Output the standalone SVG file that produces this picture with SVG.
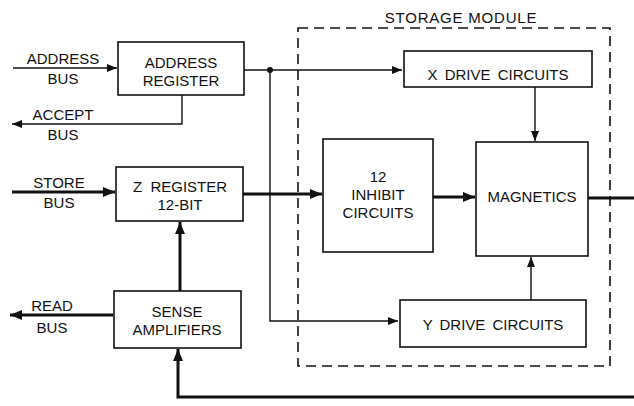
<svg xmlns="http://www.w3.org/2000/svg" width="634" height="406" viewBox="0 0 634 406">
<style>
.box{fill:#fff;stroke:#111;stroke-width:1.6}
.t{font-family:"Liberation Sans",Arial,sans-serif;font-size:15px;fill:#111;text-anchor:middle}
.thin{fill:none;stroke:#111;stroke-width:1.4}
.thick{fill:none;stroke:#111;stroke-width:3}
.dash{fill:none;stroke:#111;stroke-width:1.6;stroke-dasharray:10,6}
</style>
<defs>
<marker id="a" viewBox="0 0 10 8" refX="10" refY="4" markerWidth="10" markerHeight="8" markerUnits="userSpaceOnUse" orient="auto"><path d="M0,0L10,4L0,8z" fill="#111"/></marker>
<marker id="b" viewBox="0 0 12 10" refX="12" refY="5" markerWidth="13" markerHeight="10" markerUnits="userSpaceOnUse" orient="auto"><path d="M0,0L12,5L0,10z" fill="#111"/></marker>
</defs>
<g id="storage-module">
<rect class="dash" x="298" y="28" width="312" height="338"/>
<text class="t" x="461" y="23" letter-spacing="0.8">STORAGE MODULE</text>
</g>
<g id="connectors">
<path class="thin" d="M13,68H117" marker-end="url(#a)"/>
<path class="thin" d="M244,70H402" marker-end="url(#a)"/>
<circle cx="270" cy="70" r="3" fill="#111"/>
<path class="thin" d="M270,70V321H398" marker-end="url(#a)"/>
<path class="thin" d="M182,95V124H12" marker-end="url(#a)"/>
<path class="thick" d="M12,192H115" marker-end="url(#b)"/>
<path class="thick" d="M243,194H322" marker-end="url(#b)"/>
<path class="thick" d="M433,197H475" marker-end="url(#b)"/>
<path class="thick" d="M588,198H634"/>
<path class="thin" d="M535,87V141" marker-end="url(#a)"/>
<path class="thin" d="M531,300V257" marker-end="url(#a)"/>
<path class="thick" d="M180,291V222" marker-end="url(#b)"/>
<path class="thick" d="M113,315H10" marker-end="url(#b)"/>
<path class="thick" d="M634,397H178V349" marker-end="url(#b)"/>
</g>
<g id="address-bus-label"><text class="t" x="63" y="64">ADDRESS</text><text class="t" x="63" y="84">BUS</text></g>
<g id="accept-bus-label"><text class="t" x="63" y="120">ACCEPT</text><text class="t" x="63" y="140">BUS</text></g>
<g id="store-bus-label"><text class="t" x="59" y="188">STORE</text><text class="t" x="59" y="208">BUS</text></g>
<g id="read-bus-label"><text class="t" x="52" y="311">READ</text><text class="t" x="52" y="333">BUS</text></g>
<g id="address-register"><rect class="box" x="118" y="42" width="126" height="53"/><text class="t" x="181" y="68">ADDRESS</text><text class="t" x="181" y="86">REGISTER</text></g>
<g id="z-register"><rect class="box" x="116" y="167" width="127" height="54"/><text class="t" x="180" y="192" xml:space="preserve">Z  REGISTER</text><text class="t" x="180" y="210">12-BIT</text></g>
<g id="sense-amplifiers"><rect class="box" x="114" y="291" width="127" height="57"/><text class="t" x="177" y="317">SENSE</text><text class="t" x="177" y="335">AMPLIFIERS</text></g>
<g id="x-drive"><rect class="box" x="404" y="51" width="188" height="36"/><text class="t" x="498" y="80" word-spacing="3">X DRIVE CIRCUITS</text></g>
<g id="inhibit"><rect class="box" x="323" y="139" width="110" height="113"/><text class="t" x="378" y="182">12</text><text class="t" x="378" y="200">INHIBIT</text><text class="t" x="378" y="218">CIRCUITS</text></g>
<g id="magnetics"><rect class="box" x="476" y="142" width="112" height="114"/><text class="t" x="532" y="202">MAGNETICS</text></g>
<g id="y-drive"><rect class="box" x="400" y="300" width="186" height="47"/><text class="t" x="493" y="330" word-spacing="3">Y DRIVE CIRCUITS</text></g>
</svg>
